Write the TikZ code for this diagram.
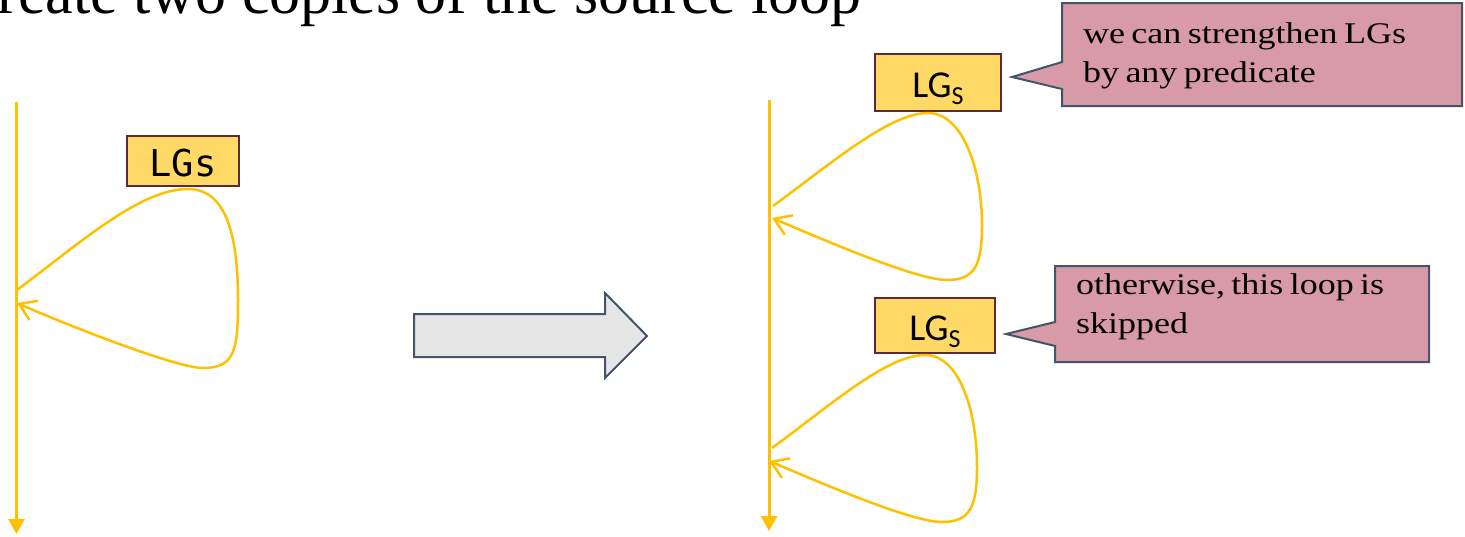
\documentclass[tikz,border=0pt]{standalone}
\usepackage{fontspec}
\setmainfont{Liberation Serif}
\newfontfamily\callfont[FakeStretch=1.2,WordSpace=0.7]{Liberation Serif}
\newfontfamily\lgmono{DejaVu Sans Mono}
\newfontfamily\lgsans{Carlito}
\usetikzlibrary{arrows.meta}
\definecolor{loopc}{HTML}{FFC000}
\definecolor{boxfill}{HTML}{FFD966}
\definecolor{boxdraw}{HTML}{5B2A3A}
\definecolor{callfill}{HTML}{D99AA7}
\definecolor{slate}{HTML}{44546A}
\definecolor{arrfill}{HTML}{E7E6E6}
\begin{document}
\begin{tikzpicture}[x=1pt,y=-1pt,
  mainline/.style={draw=loopc, line width=3pt, -{Triangle[length=15pt,width=16pt]}},
  loopline/.style={draw=loopc, line width=2.5pt, -{Straight Barb[length=16pt,width=21pt,line width=2.5pt]}},
  lgbox/.style={draw=boxdraw, fill=boxfill, line width=2.5pt, inner sep=0pt, text depth=0pt},
  callout/.style={draw=slate, fill=callfill, line width=2pt, line join=miter},
  calltext/.style={anchor=base west, inner sep=0pt, font=\callfont\fontsize{30}{39}\selectfont},
  blockarrow/.style={draw=slate, fill=arrfill, line width=2pt, line join=miter}]
\useasboundingbox (0,0) rectangle (1465,536);
\clip (0,0) rectangle (1465,536);

\node[anchor=base east, inner sep=0pt, font=\fontsize{62}{62}\selectfont] (title) at (862,13) {Create two copies of the source loop};

% left diagram
\coordinate (ltop) at (16.5,102);
\coordinate (lbot) at (16.5,534);
\draw[mainline] (ltop) -- (lbot);
\node[lgbox, minimum width=112pt, minimum height=50pt, text height=30pt] (lgA) at (183,161) {\lgmono\fontsize{37}{37}\selectfont LGs};
\coordinate (la) at (17,290);
\coordinate (lb) at (17,303);
\draw[loopline] (la) .. controls (80,243) and (140,189) .. (188,189)
  .. controls (228,189) and (238,240) .. (238,300)
  .. controls (238,350) and (235,368) .. (203,368)
  .. controls (175,368) and (60,322) .. (lb);

% block arrow
\draw[blockarrow] (414,314) -- (605,314) -- (605,293) -- (647,336) -- (605,378) -- (605,357) -- (414,357) -- cycle;

% right diagram
\coordinate (rtop) at (769,100);
\coordinate (rbot) at (769,531);
\draw[mainline] (rtop) -- (rbot);

\node[lgbox, minimum width=126pt, minimum height=57pt, text height=30pt] (lgB) at (938,82.5) {\lgsans\fontsize{38}{38}\selectfont LG\raisebox{-7pt}{\fontsize{26}{26}\selectfont S}};
\coordinate (ra) at (773,206);
\coordinate (rb) at (772,218);
\draw[loopline] (ra) .. controls (833,162) and (890,113) .. (928,113)
  .. controls (963,113) and (982,170) .. (982,225)
  .. controls (982,265) and (975,280) .. (947,280)
  .. controls (915,280) and (815,236) .. (rb);

\node[lgbox, minimum width=120pt, minimum height=55pt, text height=30pt] (lgC) at (935,325.5) {\lgsans\fontsize{38}{38}\selectfont LG\raisebox{-7pt}{\fontsize{26}{26}\selectfont S}};
\coordinate (rc) at (772,448);
\coordinate (rd) at (769,461);
\draw[loopline] (rc) .. controls (832,404) and (887,355) .. (925,355)
  .. controls (960,355) and (977,412) .. (977,467)
  .. controls (977,507) and (970,522) .. (942,522)
  .. controls (910,522) and (812,479) .. (rd);

% callouts
\draw[callout] (1062,3) -- (1462,3) -- (1462,106) -- (1062,106) -- (1062,89) -- (1012,77) -- (1062,62) -- cycle;
\node[calltext] (c1a) at (1083,43) {we can strengthen LGs};
\node[calltext] (c1b) at (1083,82) {by any predicate};

\draw[callout] (1055,266) -- (1429,266) -- (1429,362) -- (1055,362) -- (1055,346) -- (1006,334) -- (1055,322) -- cycle;
\node[calltext] (c2a) at (1076,294) {otherwise, this loop is};
\node[calltext] (c2b) at (1076,333) {skipped};
\end{tikzpicture}
\end{document}
